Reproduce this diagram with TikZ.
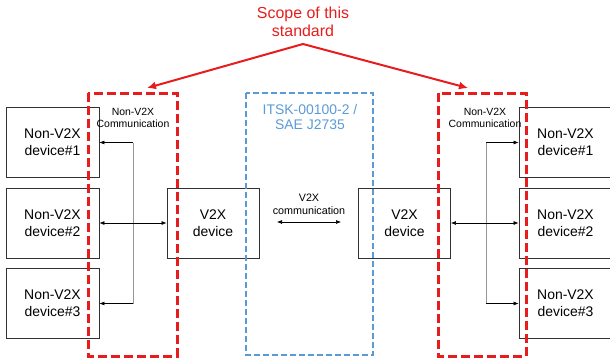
\documentclass[tikz,border=0pt]{standalone}
\usepackage{fontspec}
\setmainfont{Liberation Sans}
\usetikzlibrary{arrows.meta}
\definecolor{scopered}{RGB}{232,28,28}
\definecolor{stdblue}{RGB}{91,155,213}
\definecolor{boxline}{RGB}{50,50,50}
\definecolor{trunk}{RGB}{150,150,150}

\begin{document}
\begin{tikzpicture}[x=1bp,y=-1bp,
  devbox/.style={draw=boxline, line width=0.9bp, fill=white,
    minimum width=93bp, minimum height=70bp, inner sep=0pt, align=center,
    font=\fontsize{14}{17}\selectfont},
  v2xbox/.style={devbox, minimum width=92bp},
  scopeframe/.style={draw=scopered, line width=3bp, dash pattern=on 9bp off 4bp},
  stdframe/.style={draw=stdblue, line width=2bp, dash pattern=on 6bp off 3bp},
  smalllabel/.style={align=center, inner sep=0pt, font=\fontsize{10.5}{12}\selectfont},
  link/.style={draw=black, line width=0.6bp, {Latex[length=5bp,width=4bp]}-{Latex[length=5bp,width=4bp]}},
  branch/.style={draw=black, line width=0.6bp, -{Latex[length=5bp,width=4bp]}},
  scopearrow/.style={draw=scopered, line width=2bp, -{Latex[length=9bp,width=8bp]}}
]
\useasboundingbox (0,0) rectangle (610,359);

% devices on the left
\node[devbox] (ldev1) at (52.5,142.5) {Non-V2X\\device\#1};
\node[devbox] (ldev2) at (52.5,223)   {Non-V2X\\device\#2};
\node[devbox] (ldev3) at (52.5,303.5) {Non-V2X\\device\#3};
\node[v2xbox] (lv2x)  at (213,223)    {V2X\\device};

% devices on the right
\node[devbox] (rdev1) at (565.5,142.5) {Non-V2X\\device\#1};
\node[devbox] (rdev2) at (565.5,223)   {Non-V2X\\device\#2};
\node[devbox] (rdev3) at (565.5,303.5) {Non-V2X\\device\#3};
\node[v2xbox] (rv2x)  at (404.5,223)   {V2X\\device};

% non-V2X links, left side
\coordinate (lt1) at (133,142.5);
\coordinate (lt3) at (133,303.5);
\draw[draw=trunk, line width=0.8bp] (lt1) -- (lt3);
\draw[branch] (lt1) -- (ldev1.east);
\draw[branch] (lt3) -- (ldev3.east);
\draw[link] (ldev2.east) -- (lv2x.west);

% non-V2X links, right side
\coordinate (rt1) at (486,142.5);
\coordinate (rt3) at (486,303.5);
\draw[draw=trunk, line width=0.8bp] (rt1) -- (rt3);
\draw[branch] (rt1) -- (rdev1.west);
\draw[branch] (rt3) -- (rdev3.west);
\draw[link] (rv2x.east) -- (rdev2.west);

% V2X link
\coordinate (ca) at (277,222);
\coordinate (cb) at (341,222);
\draw[link] (ca) -- (cb);
\node[smalllabel, font=\fontsize{10.8}{13}\selectfont] (v2xlbl) at (309,204.5) {V2X\\communication};

% standard frame
\draw[stdframe] (246,93) rectangle (373,355);
\node[align=center, inner sep=0pt, text=stdblue, font=\fontsize{14}{16}\selectfont] (stdlbl) at (310,117) {ITSK-00100-2 /\\SAE J2735};

% scope frames
\draw[scopeframe] (88,93) rectangle (177,356);
\draw[scopeframe] (438,93) rectangle (526,356);
\node[smalllabel] (lcomm) at (133,118) {Non-V2X\\Communication};
\node[smalllabel] (rcomm) at (485,118) {Non-V2X\\Communication};

% scope callout
\node[align=center, inner sep=0pt, text=scopered, font=\fontsize{16}{18}\selectfont] (scope) at (303,22) {Scope of this\\standard};
\coordinate (apex) at (303,44);
\coordinate (lscope) at (147,88);
\coordinate (rscope) at (468,88);
\draw[scopearrow] (apex) -- (lscope);
\draw[scopearrow] (apex) -- (rscope);
\end{tikzpicture}
\end{document}
